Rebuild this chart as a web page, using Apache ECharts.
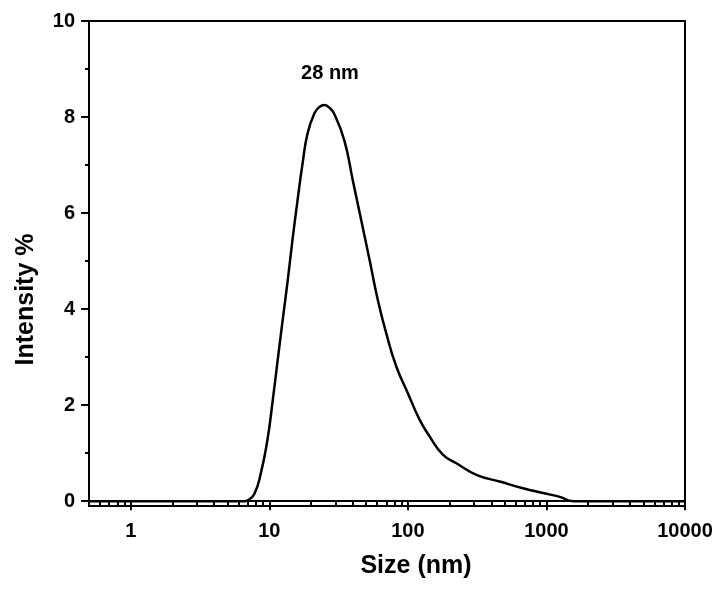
<!DOCTYPE html>
<html>
<head>
<meta charset="utf-8">
<script src="https://cdn.jsdelivr.net/npm/echarts@6/dist/echarts.min.js"></script>
<style>
  html, body { margin: 0; padding: 0; background: #fff; }
  #chart { width: 724px; height: 593px; }
</style>
</head>
<body>
<div id="chart"></div>
<script>
// size distribution (nm, intensity %)
const sizes = [0.5, 6.6, 7.0, 7.8, 8.7, 9.7, 10.6, 11.5, 12.5, 13.6, 14.7, 16.0, 17.4, 18.9, 21.2, 23.0, 25.0, 27.0, 29.5, 34.9, 40.0, 46.0, 52.9, 60.7, 69.8, 82.4, 100, 121.5, 143.5, 179, 224, 312, 460, 678, 946, 1250, 1560, 10000];
const intensity = [0, 0, 0.02, 0.15, 0.59, 1.28, 2.11, 2.94, 3.78, 4.61, 5.44, 6.27, 7.04, 7.66, 8.08, 8.21, 8.25, 8.2, 8.06, 7.5, 6.69, 5.86, 5.03, 4.19, 3.50, 2.81, 2.25, 1.70, 1.35, 0.97, 0.79, 0.55, 0.41, 0.27, 0.17, 0.09, 0, 0];

const xMajor = [1, 10, 100, 1000, 10000];
const xMinor = [0.5, 0.6, 0.7, 0.8, 0.9, 2, 3, 4, 5, 6, 7, 8, 9, 20, 30, 40, 50, 60, 70, 80, 90,
  200, 300, 400, 500, 600, 700, 800, 900, 2000, 3000, 4000, 5000, 6000, 7000, 8000, 9000];
const yMajor = [0, 2, 4, 6, 8, 10];
const yMinor = [1, 3, 5, 7, 9];

const peakLabel = '28 nm';

let chartDom = document.getElementById('chart');
let myChart = echarts.init(chartDom);

const font = 'Liberation Sans, Arial, sans-serif';
const black = '#000';

let data = sizes.map((s, i) => [s, intensity[i]]);

let option = {
  animation: false,
  backgroundColor: '#fff',
  grid: {
    left: 89,
    right: 39,
    top: 21,
    bottom: 87,
    show: true,
    borderColor: black,
    borderWidth: 2,
    backgroundColor: 'transparent'
  },
  xAxis: [
    {
      type: 'log',
      logBase: 10,
      min: 0.5,
      max: 10000,
      position: 'bottom',
      name: 'Size (nm)',
      nameLocation: 'middle',
      nameGap: 48,
      nameTextStyle: {
        fontFamily: font, fontWeight: 'bold', fontSize: 25, color: black,
        padding: [0, 0, 0, 58]
      },
      axisLine: { show: true, lineStyle: { color: black, width: 2 } },
      axisTick: { show: true, inside: false, length: 9, customValues: xMajor, lineStyle: { color: black, width: 2 } },
      axisLabel: {
        customValues: xMajor,
        margin: 15,
        formatter: v => String(Math.round(v)),
        fontFamily: font, fontWeight: 'bold', fontSize: 20, color: black
      },
      splitLine: { show: false },
      minorTick: { show: false }
    },
    {
      type: 'log',
      logBase: 10,
      min: 0.5,
      max: 10000,
      position: 'bottom',
      axisLine: { show: false },
      axisTick: { show: true, inside: false, length: 5, customValues: xMinor, lineStyle: { color: black, width: 2 } },
      axisLabel: { show: false },
      splitLine: { show: false }
    }
  ],
  yAxis: [
    {
      type: 'value',
      min: -0.1,
      max: 10,
      position: 'left',
      name: 'Intensity %',
      nameLocation: 'middle',
      nameGap: 50,
      nameTextStyle: {
        fontFamily: font, fontWeight: 'bold', fontSize: 25, color: black,
        padding: [0, 72, 0, 0]
      },
      axisLine: { show: true, lineStyle: { color: black, width: 2 } },
      axisTick: { show: true, inside: false, length: 8, customValues: yMajor, lineStyle: { color: black, width: 2 } },
      axisLabel: {
        customValues: yMajor,
        margin: 14,
        fontFamily: font, fontWeight: 'bold', fontSize: 20, color: black
      },
      splitLine: { show: false }
    },
    {
      type: 'value',
      min: -0.1,
      max: 10,
      position: 'left',
      axisLine: { show: false },
      axisTick: { show: true, inside: false, length: 4, customValues: yMinor, lineStyle: { color: black, width: 2 } },
      axisLabel: { show: false },
      splitLine: { show: false }
    }
  ],
  series: [
    {
      type: 'line',
      xAxisIndex: 0,
      yAxisIndex: 0,
      data: data,
      smooth: 0.5,
      showSymbol: false,
      lineStyle: { color: black, width: 2.5 }
    }
  ],
  graphic: [
    {
      type: 'text',
      x: 330,
      y: 73,
      style: {
        text: peakLabel,
        fill: black,
        font: 'bold 20px ' + font,
        align: 'center',
        verticalAlign: 'middle'
      }
    }
  ]
};
myChart.setOption(option);
</script>
</body>
</html>
